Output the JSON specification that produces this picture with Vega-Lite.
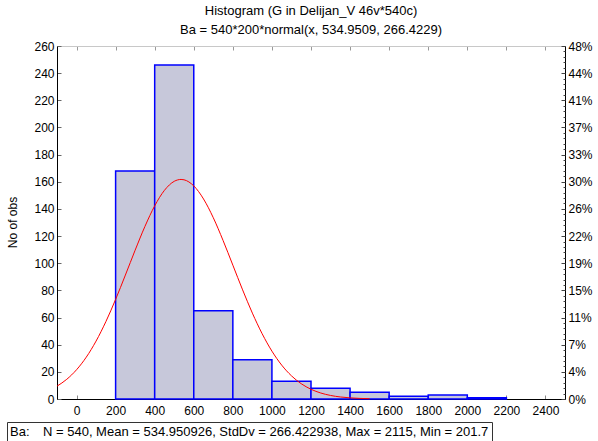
{
  "$schema": "https://vega.github.io/schema/vega-lite/v6.json",
  "width": 508,
  "height": 353,
  "autosize": "none",
  "padding": {"left": 57, "top": 46, "right": 33, "bottom": 42},
  "background": "white",
  "title": {
    "text": "Histogram (G in Delijan_V 46v*540c)",
    "subtitle": "Ba = 540*200*normal(x, 534.9509, 266.4229)",
    "anchor": "middle",
    "fontSize": 13,
    "fontWeight": "normal",
    "subtitleFontSize": 13,
    "subtitleColor": "#000",
    "color": "#000",
    "offset": 3,
    "subtitlePadding": 6
  },
  "datasets": {
    "bins": [
      {"bin_start": 200, "bin_end": 400, "count": 168},
      {"bin_start": 400, "bin_end": 600, "count": 246},
      {"bin_start": 600, "bin_end": 800, "count": 65},
      {"bin_start": 800, "bin_end": 1000, "count": 29},
      {"bin_start": 1000, "bin_end": 1200, "count": 13},
      {"bin_start": 1200, "bin_end": 1400, "count": 8},
      {"bin_start": 1400, "bin_end": 1600, "count": 5},
      {"bin_start": 1600, "bin_end": 1800, "count": 2},
      {"bin_start": 1800, "bin_end": 2000, "count": 3},
      {"bin_start": 2000, "bin_end": 2200, "count": 1}
    ],
    "fit": [
      {"x": -100, "y": 9.45},
      {"x": -50, "y": 14.52},
      {"x": 0, "y": 21.54},
      {"x": 50, "y": 30.85},
      {"x": 100, "y": 42.66},
      {"x": 150, "y": 56.94},
      {"x": 200, "y": 73.37},
      {"x": 250, "y": 91.28},
      {"x": 300, "y": 109.62},
      {"x": 350, "y": 127.09},
      {"x": 400, "y": 142.25},
      {"x": 450, "y": 153.71},
      {"x": 500, "y": 160.34},
      {"x": 535, "y": 161.72},
      {"x": 550, "y": 161.46},
      {"x": 600, "y": 156.97},
      {"x": 650, "y": 147.32},
      {"x": 700, "y": 133.49},
      {"x": 750, "y": 116.76},
      {"x": 800, "y": 98.59},
      {"x": 850, "y": 80.37},
      {"x": 900, "y": 63.25},
      {"x": 950, "y": 48.06},
      {"x": 1000, "y": 35.25},
      {"x": 1050, "y": 24.96},
      {"x": 1100, "y": 17.06},
      {"x": 1150, "y": 11.26},
      {"x": 1200, "y": 7.17},
      {"x": 1250, "y": 4.41},
      {"x": 1300, "y": 2.62},
      {"x": 1350, "y": 1.5},
      {"x": 1400, "y": 0.83},
      {"x": 1450, "y": 0.44},
      {"x": 1500, "y": 0.23}
    ]
  },
  "layer": [
    {
      "data": {"name": "bins"},
      "mark": {"type": "rect", "fill": "#c7c8da", "strokeWidth": 1.5},
      "encoding": {
        "x": {
          "field": "bin_start", "type": "quantitative",
          "scale": {"domain": [-100, 2500], "nice": false, "zero": false},
          "axis": {
            "orient": "bottom", "title": null, "format": "d",
            "values": [0, 200, 400, 600, 800, 1000, 1200, 1400, 1600, 1800, 2000, 2200, 2400],
            "tickSize": -4, "tickColor": "#888", "domainColor": "#000",
            "labelFontSize": 12, "labelPadding": 10, "labelColor": "#000", "grid": false
          }
        },
        "x2": {"field": "bin_end"},
        "y": {
          "field": "count", "type": "quantitative",
          "scale": {"domain": [0, 260], "nice": false},
          "axis": {
            "orient": "left", "title": "No of obs", "format": "d",
            "values": [0, 20, 40, 60, 80, 100, 120, 140, 160, 180, 200, 220, 240, 260],
            "tickSize": -4, "tickColor": "#666", "domainColor": "#000",
            "labelFontSize": 12, "labelPadding": 7, "labelColor": "#000", "grid": false,
            "titleFontSize": 12, "titleFontWeight": "normal", "titleColor": "#000",
            "titleX": -38, "titleY": 176
          }
        },
        "y2": {"datum": 0},
        "stroke": {
          "datum": "N = 540, Mean = 534.950926, StdDv = 266.422938, Max = 2115, Min = 201.7",
          "scale": {"range": ["#0000ff"]},
          "legend": {
            "orient": "none", "legendX": -50, "legendY": 376,
            "title": "\u00a0\u00a0\u00a0Ba:", "titleOrient": "left", "titleFontSize": 13,
            "titleFontWeight": "normal", "titleColor": "#000", "titlePadding": 0,
            "strokeColor": "#333", "padding": 3, "fillColor": "white",
            "symbolOpacity": 0, "symbolSize": 0, "symbolStrokeWidth": 0,
            "labelOffset": 0, "labelLimit": 600, "labelFontSize": 13, "labelColor": "#000"
          }
        }
      }
    },
    {
      "data": {"name": "fit"},
      "mark": {"type": "line", "color": "#ff0000", "strokeWidth": 1, "interpolate": "monotone"},
      "encoding": {
        "x": {
          "field": "x", "type": "quantitative",
          "axis": {
            "orient": "top", "title": null, "labels": false,
            "values": [0, 200, 400, 600, 800, 1000, 1200, 1400, 1600, 1800, 2000, 2200, 2400],
            "tickSize": -4, "tickColor": "#999", "domainColor": "#c8c8c8", "grid": false
          }
        },
        "y": {
          "field": "y", "type": "quantitative",
          "axis": {
            "orient": "right", "title": null,
            "values": [0, 20, 40, 60, 80, 100, 120, 140, 160, 180, 200, 220, 240, 260],
            "labelExpr": "format(datum.value / 540 * 100, '.0f') + '%'",
            "tickSize": -4, "tickColor": "#444", "domainColor": "#000",
            "labelFontSize": 12, "labelPadding": 7, "labelColor": "#000", "grid": false
          }
        }
      }
    },
    {
      "data": {"name": "fit"},
      "mark": {"type": "line", "opacity": 0},
      "encoding": {
        "x": {"field": "x", "type": "quantitative", "axis": null},
        "y": {
          "field": "y", "type": "quantitative",
          "axis": {
            "orient": "right", "title": null, "labels": false, "domain": false, "grid": false,
            "values": [0, 4, 8, 12, 16, 20, 24, 28, 32, 36, 40, 44, 48, 52, 56, 60, 64, 68, 72, 76, 80, 84, 88, 92, 96, 100, 104, 108, 112, 116, 120, 124, 128, 132, 136, 140, 144, 148, 152, 156, 160, 164, 168, 172, 176, 180, 184, 188, 192, 196, 200, 204, 208, 212, 216, 220, 224, 228, 232, 236, 240, 244, 248, 252, 256, 260],
            "tickSize": -2, "tickColor": "#444"
          }
        }
      }
    }
  ],
  "resolve": {"axis": {"x": "independent", "y": "independent"}},
  "config": {
    "font": "Liberation Sans",
    "view": {"stroke": null}
  }
}
